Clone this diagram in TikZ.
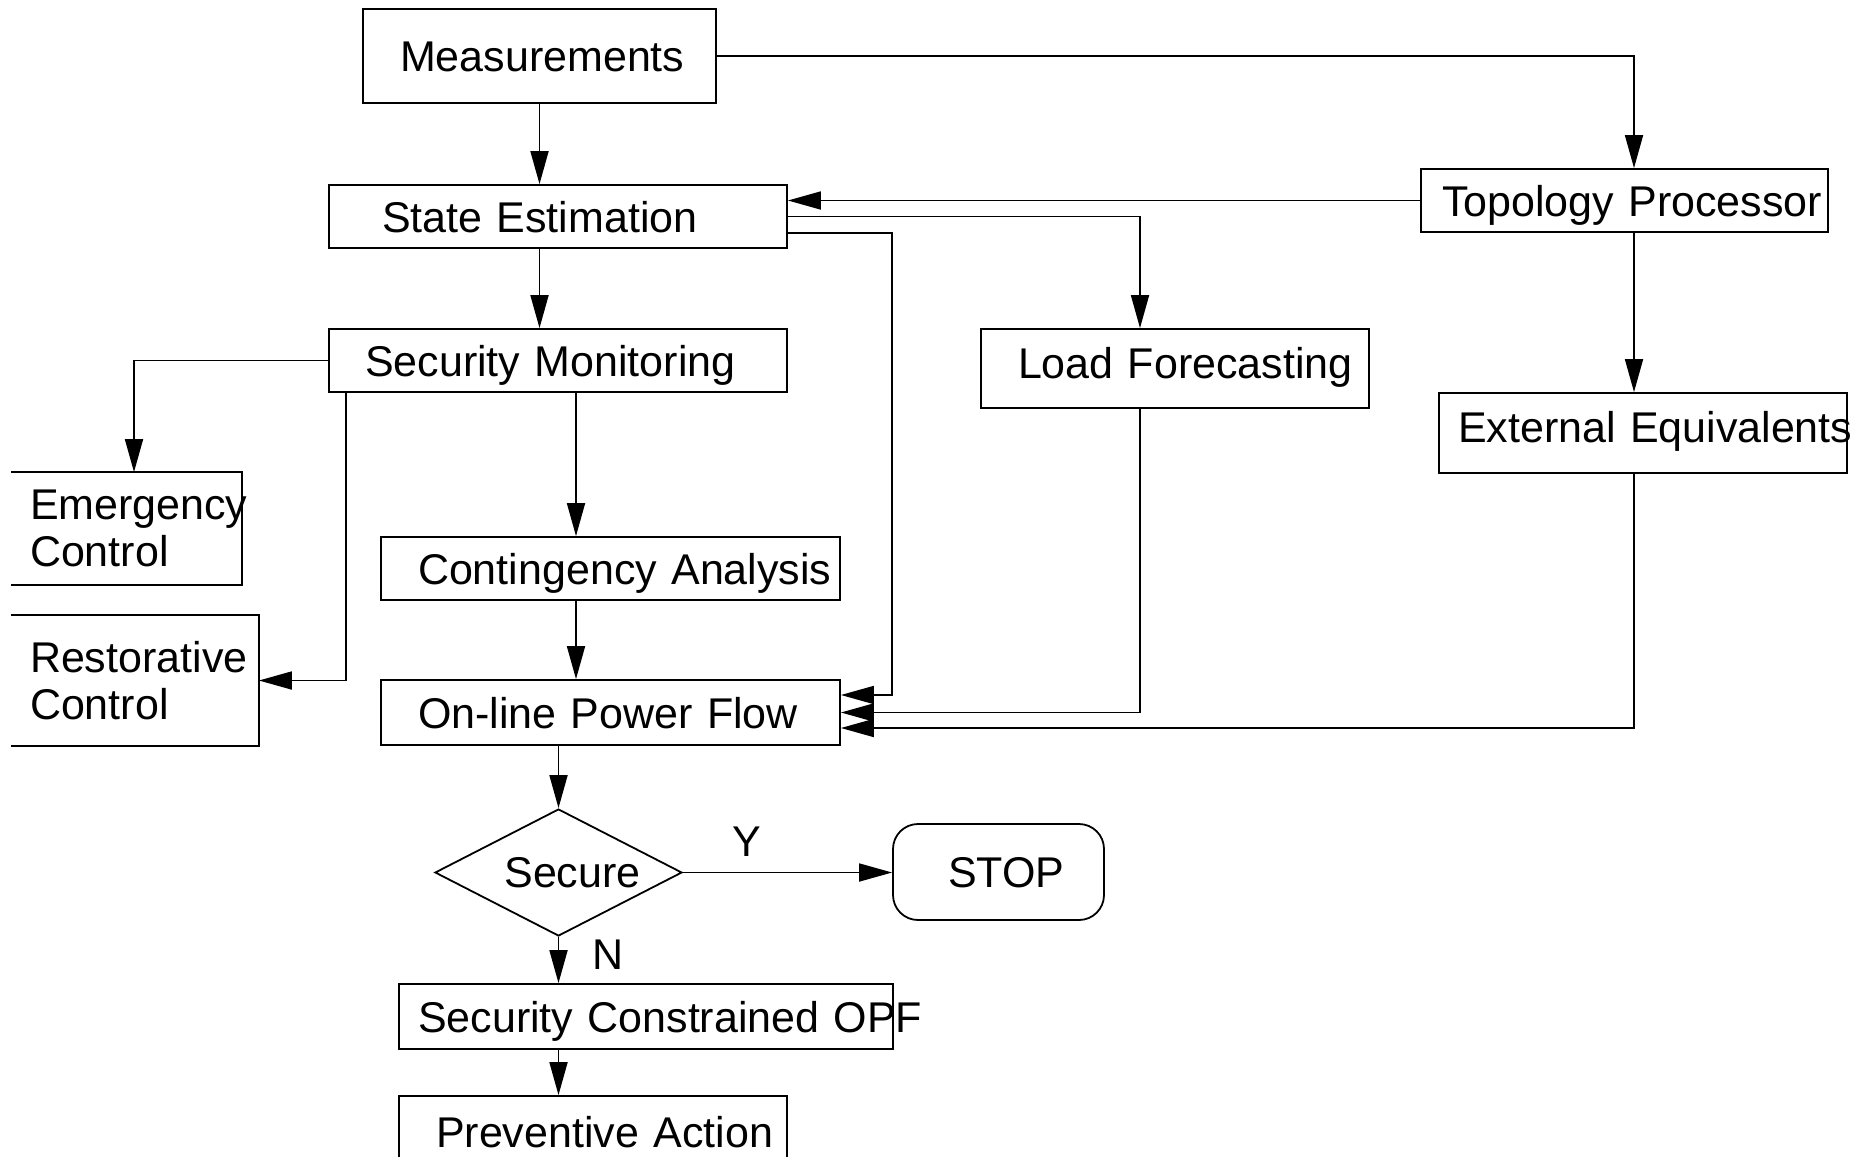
\documentclass[tikz,border=0pt]{standalone}
\usepackage{fontspec}
\setmainfont{Liberation Sans}
\usetikzlibrary{arrows.meta,shapes.geometric}

\begin{document}
\begin{tikzpicture}[x=1pt,y=-1pt,line width=1.8pt,
  font=\fontsize{43}{47.5}\selectfont,
  box/.style 2 args={draw,align=left,inner ysep=0pt,inner xsep=#1,
    text width=#2,text height=31pt,text depth=0pt,minimum height=63pt},
  decision/.style={draw,diamond,inner sep=0pt,aspect=2,
    minimum width=247pt,minimum height=127pt},
  flow/.style={-{Triangle[length=33pt,width=18pt]}}]

  \useasboundingbox (0,0) rectangle (1862,1156);

  % The boxes
  \node[box={37pt}{279pt},minimum height=94pt] (meas) at (539.5,56) {\mbox{Measurements}};
  \node[box={53pt}{352pt}] (se) at (558,216.5) {\mbox{State Estimation}};
  \node[box={36pt}{386pt}] (sm) at (558,360.5) {\mbox{Security Monitoring}};
  \node[box={21pt}{365pt}] (tp) at (1624.5,200.5) {\mbox{Topology Processor}};
  \node[box={37pt}{314pt},text depth=12pt,minimum height=79pt] (lf) at (1175,368.5) {\mbox{Load Forecasting}};
  \node[box={19pt}{370pt},text depth=12pt,minimum height=80pt] (ee) at (1643,433) {\mbox{External Equivalents}};
  \node[box={18pt}{193pt},text height=,text depth=,draw=none,minimum height=111pt] (ec) at (126.5,528.5) {Emergency\\Control};
  \node[box={18pt}{210pt},text height=,text depth=,draw=none,minimum height=129pt] (rc) at (135,680.5) {Restorative\\Control};
  \node[box={37pt}{385pt}] (ca) at (610.5,568.5) {\mbox{Contingency Analysis}};
  \node[box={37pt}{385pt},minimum height=65pt] (opf) at (610.5,712.5) {\mbox{On-line Power Flow}};
  \node[decision] (sec) at (558.5,872.5) {\hspace*{28pt}Secure};
  \node[box={55pt}{101pt},rounded corners=25pt,minimum height=96pt] (stop) at (998.5,872) {\mbox{STOP}};
  \node[box={19pt}{456pt},minimum height=65pt] (scopf) at (646,1016.5) {\mbox{Security Constrained OPF}};
  \node[box={37pt}{314pt},minimum height=72pt] (pa) at (593,1132) {\mbox{Preventive Action}};

  % Left boxes are open on the left
  \draw (ec.north west) -- (ec.north east) -- (ec.south east) -- (ec.south west);
  \draw (rc.north west) -- (rc.north east) -- (rc.south east) -- (rc.south west);

  % Columns and entry points
  \coordinate (tpcol) at (1634,0);
  \coordinate (lfcol) at (1140,0);
  \coordinate (secol) at (892,0);
  \coordinate (cacol) at (576,0);
  \coordinate (in1) at ([yshift=17.5pt]opf.east);
  \coordinate (in3) at ([yshift=-15.5pt]opf.east);

  % Connectors
  \draw[flow] (meas.south) -- (meas.south |- se.north);
  \draw[flow] (meas.south |- se.south) -- (meas.south |- sm.north);
  \draw[flow] (meas.east) -| (tpcol |- tp.north);
  \draw[flow] (tp.west) -- (tp.west -| se.east);
  \draw[flow] (se.east) -| (lfcol |- lf.north);
  \draw[flow] ([yshift=-16.5pt]se.east) -| (secol |- in1) -- (in1);
  \draw[flow] (lfcol |- lf.south) |- (opf.east);
  \draw[flow] (tpcol |- tp.south) -- (tpcol |- ee.north);
  \draw[flow] (tpcol |- ee.south) |- (in3);
  \draw[flow] (sm.west) -| ([xshift=7.5pt]ec.north);
  \draw[flow] ([xshift=-212pt]sm.south) |- (rc.east);
  \draw[flow] (cacol |- sm.south) -- (cacol |- ca.north);
  \draw[flow] (cacol |- ca.south) -- (cacol |- opf.north);
  \draw[flow] (sec.north |- opf.south) -- (sec.north);
  \draw[flow] (sec.east) -- (sec.east -| stop.west);
  \draw[flow] (sec.south) -- (sec.south |- scopf.north);
  \draw[flow] (sec.south |- scopf.south) -- (sec.south |- pa.north);

  % Branch labels
  \node (ylab) at (747,842) {Y};
  \node (nlab) at (608,955) {N};

\end{tikzpicture}
\end{document}
